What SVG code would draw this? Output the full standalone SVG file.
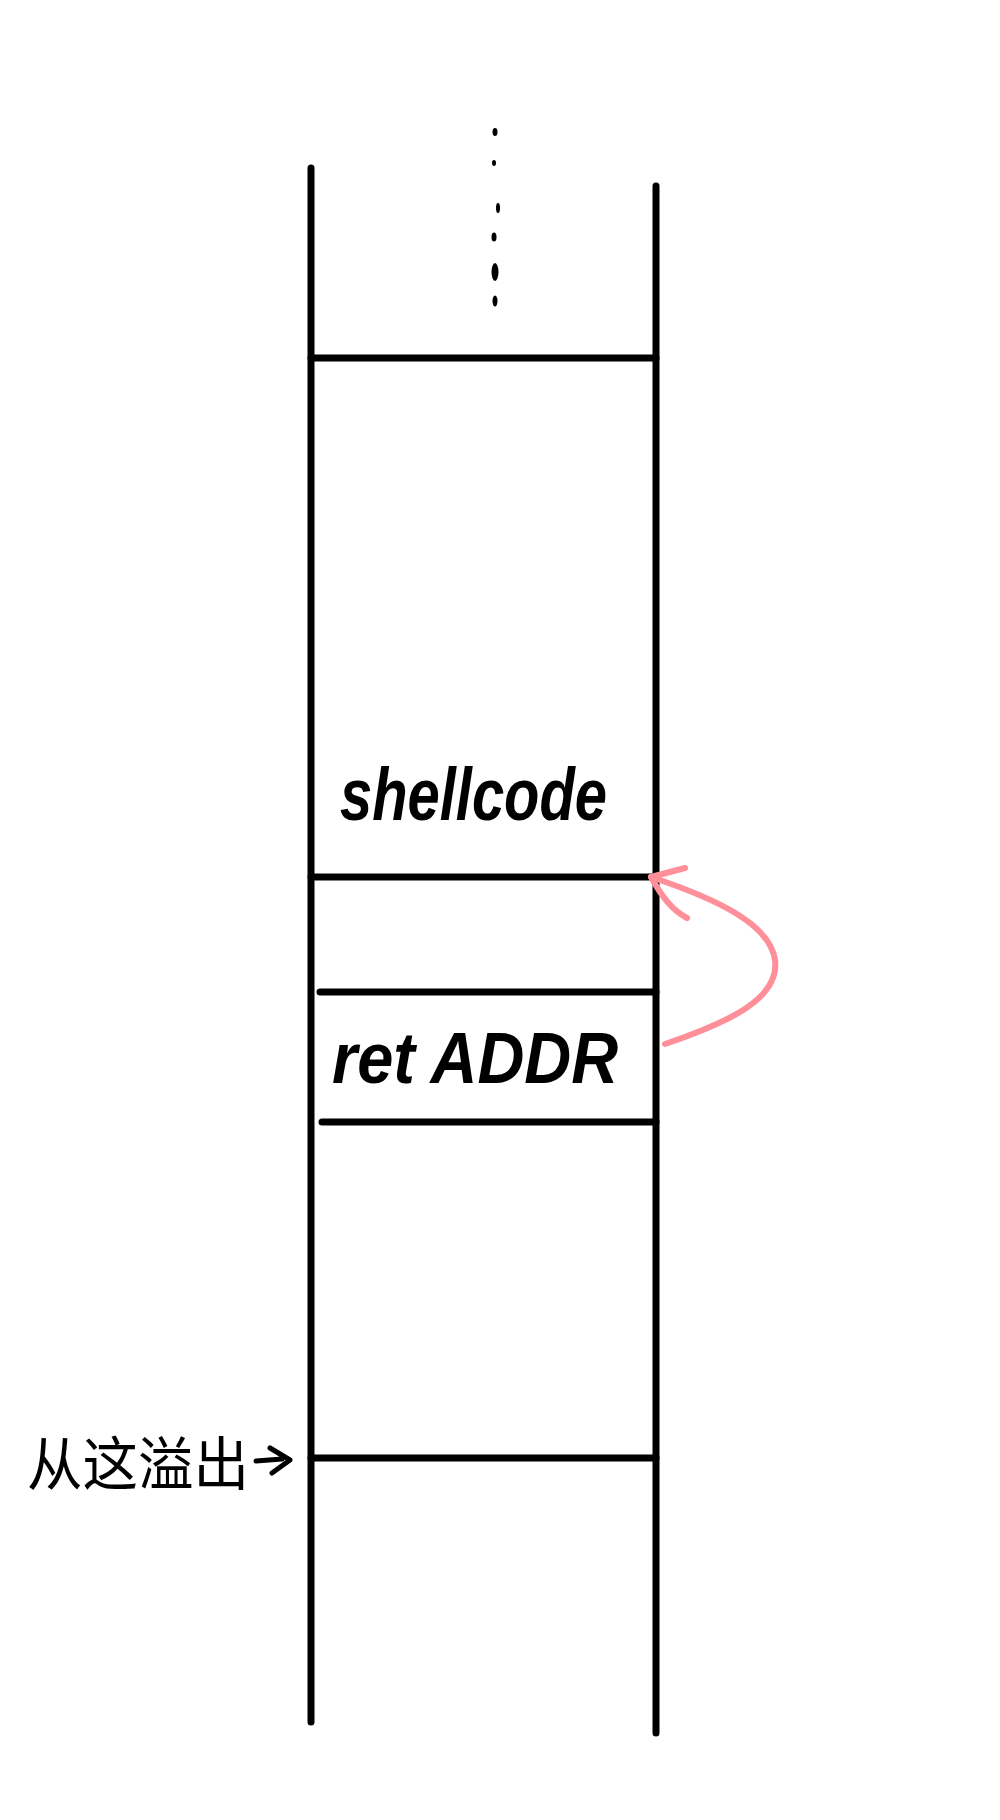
<svg xmlns="http://www.w3.org/2000/svg" width="1000" height="1820" viewBox="0 0 1000 1820">
<style>
.ln{stroke:#000;stroke-width:7;stroke-linecap:round;fill:none}
.hand{font-family:"Liberation Sans","Noto Sans CJK SC",sans-serif;fill:#000}
.red{stroke:#FF8F99;stroke-width:6;stroke-linecap:round;stroke-linejoin:round;fill:none}
</style>
<rect width="1000" height="1820" fill="#fff"/>
<g id="stack">
<line class="ln" x1="311" y1="168" x2="311" y2="1722"/>
<line class="ln" x1="656" y1="186" x2="656" y2="1733"/>
</g>
<g id="dots" fill="#000">
<ellipse cx="495" cy="132" rx="2.5" ry="4"/>
<ellipse cx="494" cy="163" rx="2" ry="3"/>
<ellipse cx="498" cy="208" rx="2" ry="5"/>
<ellipse cx="494" cy="237" rx="2.5" ry="4.5"/>
<ellipse cx="495" cy="272" rx="3.5" ry="9"/>
<ellipse cx="495" cy="301" rx="2.5" ry="5.5"/>
</g>
<g id="row-top"><line class="ln" x1="311" y1="358" x2="656" y2="358"/></g>
<g id="shellcode">
<text class="hand" x="340" y="820" font-size="74" font-style="italic" font-weight="bold" textLength="267" lengthAdjust="spacingAndGlyphs">shellcode</text>
<line class="ln" x1="311" y1="877" x2="656" y2="877"/>
</g>
<g id="retaddr">
<line class="ln" x1="320" y1="992" x2="656" y2="992"/>
<text class="hand" x="332" y="1083" font-size="72" font-style="italic" font-weight="bold" textLength="286" lengthAdjust="spacingAndGlyphs">ret ADDR</text>
<line class="ln" x1="322" y1="1122" x2="656" y2="1122"/>
</g>
<g id="overflow">
<line class="ln" x1="311" y1="1458" x2="656" y2="1458"/>
<text class="hand" x="27" y="1485" font-size="58" textLength="222" lengthAdjust="spacingAndGlyphs">从这溢出</text>
</g>
<g id="connectors">
<path class="red" d="M665 1044 C730 1022 780 998 775 960 C770 925 720 900 651 877"/>
<path class="red" d="M685 868 L651 877 C662 897 672 910 687 918"/>
<path d="M256 1461 L282 1459 M270 1448 L290 1460 L272 1473" stroke="#000" stroke-width="5" stroke-linecap="round" stroke-linejoin="round" fill="none"/>
</g>
</svg>
